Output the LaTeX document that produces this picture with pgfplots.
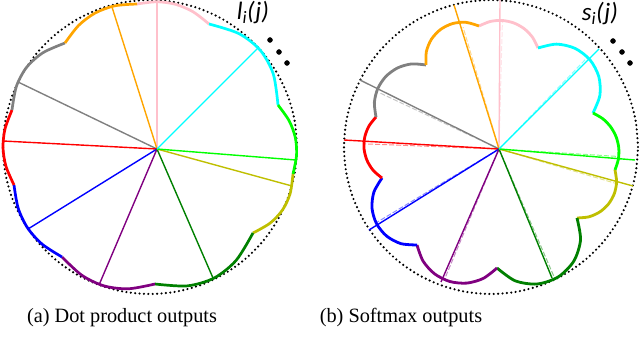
\documentclass[border=0pt]{standalone}
\usepackage{pgfplots}
\pgfplotsset{compat=1.18}
\usepackage{fontspec}
\setmainfont{Liberation Serif}
\newfontfamily\labelfont{Carlito}
\definecolor{cpink}{RGB}{255,192,203}
\definecolor{ccyan}{RGB}{0,255,255}
\definecolor{cgreen}{RGB}{0,255,0}
\definecolor{colive}{RGB}{191,191,0}
\definecolor{cdkgreen}{RGB}{0,128,0}
\definecolor{cpurple}{RGB}{128,0,128}
\definecolor{cblue}{RGB}{0,0,255}
\definecolor{cred}{RGB}{255,0,0}
\definecolor{cgray}{RGB}{128,128,128}
\definecolor{corange}{RGB}{255,165,0}
\pgfplotsset{
  dotcircle/.style={black, line width=2.4pt, dash pattern=on 0pt off 4.4pt, line cap=round, smooth},
  arcL/.style={line width=2.7pt, smooth},
  arcR/.style={line width=2.8pt, smooth},
  ray/.style={line width=1.4pt},
  dray/.style={line width=1pt, dash pattern=on 5pt off 2pt, opacity=0.45},
}
\begin{document}
\begin{tikzpicture}
\path[use as bounding box] (0,0) rectangle (640pt,338pt);
% ---------------- left: dot product outputs
\begin{axis}[at={(0pt,38pt)}, anchor=south west, x=1pt, y=1pt,
  xmin=-157, xmax=163, ymin=-151, ymax=149, hide axis, clip=false]
\addplot[dotcircle] coordinates {(140,2) (137.77,27.53) (131.14,52.28) (120.31,75.5) (105.61,96.49) (87.49,114.61) (66.5,129.31) (43.28,140.14) (18.53,146.77) (-7,149) (-32.53,146.77) (-57.28,140.14) (-80.5,129.31) (-101.49,114.61) (-119.61,96.49) (-134.31,75.5) (-145.14,52.28) (-151.77,27.53) (-154,2) (-151.77,-23.53) (-145.14,-48.28) (-134.31,-71.5) (-119.61,-92.49) (-101.49,-110.61) (-80.5,-125.31) (-57.28,-136.14) (-32.53,-142.77) (-7,-145) (18.53,-142.77) (43.28,-136.14) (66.5,-125.31) (87.49,-110.61) (105.61,-92.49) (120.31,-71.5) (131.14,-48.28) (137.77,-23.53) (140,2)};
% rays
\addplot[ray, cpink] coordinates {(0,0) (0,147)};
\addplot[ray, corange] coordinates {(0,0) (-45,142)};
\addplot[ray, cgray] coordinates {(0,0) (-139,67)};
\addplot[ray, cred] coordinates {(0,0) (-154,8)};
\addplot[ray, cblue] coordinates {(0,0) (-129,-80)};
\addplot[ray, cpurple] coordinates {(0,0) (-58,-136)};
\addplot[ray, cdkgreen] coordinates {(0,0) (56,-129)};
\addplot[ray, colive] coordinates {(0,0) (135,-37)};
\addplot[ray, cgreen] coordinates {(0,0) (139,-11)};
\addplot[ray, ccyan] coordinates {(0,0) (101,101)};
% arcs
\addplot[arcL, cpink] coordinates {(-20,145) (0.01,147.23) (18.68,144.64) (36.01,137.23) (52,125)};
\addplot[arcL, ccyan] coordinates {(52,125) (81.82,115.43) (103.24,98.76) (116.3,74.95) (121,44)};
\addplot[arcL, cgreen] coordinates {(121,44) (132.09,28.33) (138.27,11.62) (139.57,-6.15) (136,-25)};
\addplot[arcL, colive] coordinates {(136,-25) (133.14,-44.6) (125.52,-60.95) (113.16,-74.08) (96,-84)};
\addplot[arcL, cdkgreen] coordinates {(96,-84) (79.1,-111.39) (57.16,-129.01) (30.14,-136.89) (-2,-135)};
\addplot[arcL, cpurple] coordinates {(-2,-135) (-28.59,-139.78) (-52.96,-136.88) (-75.11,-126.28) (-95,-108)};
\addplot[arcL, cblue] coordinates {(-95,-108) (-114.83,-95.19) (-129.4,-78.94) (-138.81,-59.25) (-143,-36)};
\addplot[arcL, cred] coordinates {(-143,-36) (-150.99,-17.45) (-154,1.23) (-152.01,20.05) (-145,39)};
\addplot[arcL, cgray] coordinates {(-145,39) (-140.59,62.73) (-130.28,81.82) (-114.07,96.25) (-92,106)};
\addplot[arcL, corange] coordinates {(-92,106) (-78.3,123.65) (-61.71,136.05) (-42.26,143.17) (-20,145)};
% dots
\addplot[only marks, mark=*, mark size=2.5pt, black] coordinates {(113,109) (122,97) (130,86)};
\node at (axis cs:96,136) {\labelfont\itshape\fontsize{25}{28}\selectfont l\textsubscript{i}(j)};
\node at (axis cs:-35,-169) {\fontsize{20.3}{24}\selectfont (a) Dot product outputs};
\end{axis}
% ---------------- right: softmax outputs
\begin{axis}[at={(320pt,38pt)}, anchor=south west, x=1pt, y=1pt,
  xmin=-179, xmax=141, ymin=-151, ymax=149, hide axis, clip=false]
\addplot[dotcircle] coordinates {(139,2) (136.77,27.53) (130.14,52.28) (119.31,75.5) (104.61,96.49) (86.49,114.61) (65.5,129.31) (42.28,140.14) (17.53,146.77) (-8,149) (-33.53,146.77) (-58.28,140.14) (-81.5,129.31) (-102.49,114.61) (-120.61,96.49) (-135.31,75.5) (-146.14,52.28) (-152.77,27.53) (-155,2) (-152.77,-23.53) (-146.14,-48.28) (-135.31,-71.5) (-120.61,-92.49) (-102.49,-110.61) (-81.5,-125.31) (-58.28,-136.14) (-33.53,-142.77) (-8,-145) (17.53,-142.77) (42.28,-136.14) (65.5,-125.31) (86.49,-110.61) (104.61,-92.49) (119.31,-71.5) (130.14,-48.28) (136.77,-23.53) (139,2)};
% dashed rays
\addplot[dray, cpink] coordinates {(0,0) (3.4,128)};
\addplot[dray, corange] coordinates {(0,0) (-35.9,121.8)};
\addplot[dray, cgray] coordinates {(0,0) (-119.4,56.2)};
\addplot[dray, cred] coordinates {(0,0) (-133.9,5.1)};
\addplot[dray, cblue] coordinates {(0,0) (-122.6,-73.6)};
\addplot[dray, cpurple] coordinates {(0,0) (-54.4,-130.1)};
\addplot[dray, cdkgreen] coordinates {(0,0) (55.4,-128.6)};
\addplot[dray, colive] coordinates {(0,0) (116.1,-34.2)};
\addplot[dray, cgreen] coordinates {(0,0) (119.8,-7.5)};
\addplot[dray, ccyan] coordinates {(0,0) (88.9,92.1)};
% solid rays
\addplot[ray, cpink] coordinates {(0,0) (1,149)};
\addplot[ray, corange] coordinates {(0,0) (-45,144)};
\addplot[ray, cgray] coordinates {(0,0) (-139,69)};
\addplot[ray, cred] coordinates {(0,0) (-155,9)};
\addplot[ray, cblue] coordinates {(0,0) (-130,-81)};
\addplot[ray, cpurple] coordinates {(0,0) (-58,-133)};
\addplot[ray, cdkgreen] coordinates {(0,0) (53,-129)};
\addplot[ray, colive] coordinates {(0,0) (134,-37)};
\addplot[ray, cgreen] coordinates {(0,0) (136,-11)};
\addplot[ray, ccyan] coordinates {(0,0) (100,100)};
% petals
\addplot[arcR, cpink] coordinates {(-20,123) (-8.87,127.49) (3.01,128.54) (14.74,126.06) (25.23,120.26) (33.53,111.69) (39,101)};
\addplot[arcR, ccyan] coordinates {(39,101) (57.51,104.87) (75.94,100.67) (90.95,89.17) (99.80,72.47) (100.87,53.59) (94,36)};
\addplot[arcR, cgreen] coordinates {(94,36) (103.78,30.26) (111.66,22.12) (117.13,12.18) (119.76,1.14) (119.38,-10.18) (116,-21)};
\addplot[arcR, colive] coordinates {(116,-21) (117.58,-32.82) (115.35,-44.54) (109.54,-54.94) (100.75,-62.98) (89.86,-67.82) (78,-69)};
\addplot[arcR, cdkgreen] coordinates {(78,-69) (81.52,-90.95) (74.79,-112.09) (59.2,-127.92) (38.15,-134.99) (16.18,-131.79) (-2,-119)};
\addplot[arcR, cpurple] coordinates {(-2,-119) (-15.65,-129.37) (-32.13,-134.09) (-49.18,-132.49) (-64.47,-124.79) (-75.95,-112.05) (-82,-96)};
\addplot[arcR, cblue] coordinates {(-82,-96) (-98.11,-94.62) (-112.36,-87.07) (-122.54,-74.54) (-127.0,-59.03) (-125.07,-43.02) (-117,-29)};
\addplot[arcR, cred] coordinates {(-117,-29) (-125.85,-21.33) (-132.01,-11.34) (-134.93,0.03) (-134.29,11.74) (-130.19,22.75) (-123,32)};
\addplot[arcR, cgray] coordinates {(-123,32) (-124.63,46.39) (-121.21,60.49) (-113.14,72.55) (-101.41,81.09) (-87.45,85.07) (-73,84)};
\addplot[arcR, corange] coordinates {(-73,84) (-72.64,97.39) (-67.55,109.81) (-58.36,119.6) (-46.29,125.47) (-32.92,126.65) (-20,123)};
% dots
\addplot[only marks, mark=*, mark size=2.5pt, black] coordinates {(114,108) (123,97) (131,86)};
\node at (axis cs:101,135) {\labelfont\itshape\fontsize{25}{28}\selectfont s\textsubscript{i}(j)};
\node at (axis cs:-98,-169) {\fontsize{20.3}{24}\selectfont (b) Softmax outputs};
\end{axis}
\end{tikzpicture}
\end{document}
